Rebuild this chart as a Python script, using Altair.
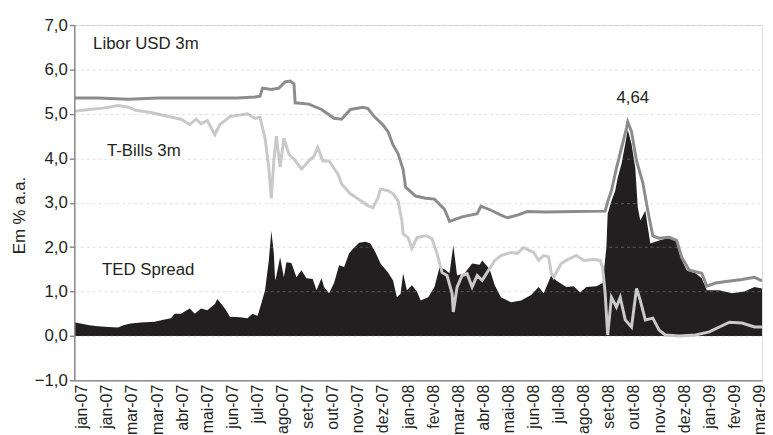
import altair as alt
import pandas as pd

# x = business-day index (labels every 20 days)
tick_labels = ["jan-07", "jan-07", "mar-07", "mar-07", "abr-07", "mai-07", "jun-07",
               "jul-07", "ago-07", "set-07", "out-07", "nov-07", "dez-07", "jan-08",
               "fev-08", "mar-08", "abr-08", "mai-08", "jun-08", "jul-08", "ago-08",
               "set-08", "out-08", "nov-08", "dez-08", "jan-09", "fev-09", "mar-09"]

libor_days = [-6, 13, 37, 61, 92, 124, 138, 142, 144, 151, 157, 162, 166, 169, 170, 181,
              191, 201, 207, 214, 224, 228, 233, 240, 244, 248, 252, 256, 258, 266, 274,
              281, 289, 293, 303, 315, 318, 326, 334, 339, 347, 355, 370, 392, 417, 419,
              422, 426, 430, 434, 435, 438, 442, 447, 451, 455, 460, 468, 474, 478, 484,
              494, 498, 505, 512, 526, 536, 542]
libor_vals = [5.36, 5.36, 5.33, 5.36, 5.36, 5.36, 5.38, 5.40, 5.58, 5.55, 5.58, 5.72, 5.74,
              5.68, 5.25, 5.22, 5.10, 4.90, 4.88, 5.10, 5.15, 5.12, 4.94, 4.75, 4.60, 4.30,
              4.10, 3.75, 3.35, 3.15, 3.10, 3.08, 2.85, 2.58, 2.68, 2.75, 2.92, 2.83, 2.72,
              2.66, 2.72, 2.80, 2.79, 2.80, 2.81, 3.02, 3.27, 3.78, 4.23, 4.68, 4.82, 4.60,
              3.94, 3.45, 2.82, 2.25, 2.20, 2.22, 2.15, 1.77, 1.48, 1.41, 1.12, 1.19, 1.22,
              1.27, 1.32, 1.24]

tbill_days = [-6, 6, 17, 29, 37, 43, 55, 69, 79, 86, 91, 95, 100, 106, 110, 118, 132, 138,
              142, 146, 149, 151, 153, 155, 158, 161, 165, 169, 175, 181, 185, 188, 192, 197,
              204, 207, 214, 220, 228, 232, 236, 238, 244, 248, 252, 255, 256, 260, 263, 267,
              274, 279, 283, 287, 291, 295, 296, 299, 303, 307, 311, 315, 319, 323, 329, 334,
              342, 347, 352, 360, 364, 368, 372, 374, 376, 382, 386, 394, 400, 408, 413, 415,
              417, 419, 422, 426, 429, 433, 438, 442, 445, 449, 455, 460, 465, 476, 489, 500,
              508, 516, 526, 536, 542]
tbill_vals = [5.06, 5.10, 5.13, 5.19, 5.15, 5.08, 5.03, 4.94, 4.88, 4.76, 4.88, 4.78, 4.85,
              4.53, 4.76, 4.94, 5.00, 4.90, 4.92, 4.45, 3.78, 3.10, 3.94, 4.50, 3.80, 4.45,
              4.09, 3.98, 3.76, 3.94, 4.05, 4.25, 3.94, 3.94, 3.65, 3.42, 3.20, 3.09, 2.93,
              2.89, 3.11, 3.31, 3.27, 3.20, 3.04, 2.60, 2.30, 2.21, 1.97, 2.21, 2.26, 2.19,
              1.86, 1.43, 1.36, 0.96, 0.54, 1.10, 1.36, 1.40, 1.10, 1.36, 1.25, 1.43, 1.70,
              1.81, 1.88, 1.86, 1.99, 1.88, 1.70, 1.81, 1.78, 1.41, 1.32, 1.63, 1.70, 1.81,
              1.70, 1.72, 1.70, 1.54, 0.96, 0.02, 0.87, 0.65, 0.87, 0.36, 0.20, 1.07, 0.80,
              0.36, 0.40, 0.13, 0.02, 0.00, 0.02, 0.09, 0.20, 0.31, 0.29, 0.20, 0.20]

ted_days = [-6, 6, 13, 21, 29, 33, 39, 47, 58, 66, 71, 74, 79, 86, 90, 95, 100, 106, 108,
            114, 118, 126, 132, 136, 140, 143, 146, 149, 151, 153, 154, 155, 158, 161, 163,
            167, 171, 175, 179, 184, 187, 191, 193, 197, 201, 205, 209, 213, 217, 221, 226,
            230, 234, 238, 244, 248, 251, 254, 256, 259, 263, 267, 270, 276, 281, 285, 289,
            293, 296, 299, 305, 311, 317, 319, 325, 329, 334, 342, 350, 358, 364, 368, 374,
            378, 386, 392, 397, 402, 410, 415, 418, 419, 422, 425, 427, 430, 433, 435, 438,
            441, 443, 445, 449, 451, 453, 460, 468, 474, 477, 482, 489, 494, 498, 508, 518,
            528, 536, 542]
ted_vals = [0.31, 0.24, 0.22, 0.20, 0.19, 0.24, 0.28, 0.30, 0.32, 0.37, 0.40, 0.50, 0.50,
            0.62, 0.50, 0.62, 0.58, 0.72, 0.83, 0.62, 0.43, 0.42, 0.40, 0.50, 0.45, 0.73,
            1.03, 1.70, 2.37, 1.86, 1.25, 1.35, 1.77, 1.32, 1.66, 1.64, 1.32, 1.48, 1.30,
            1.28, 1.03, 1.30, 1.10, 0.96, 1.19, 1.59, 1.55, 1.86, 1.99, 2.10, 2.12, 2.08,
            1.88, 1.63, 1.43, 1.25, 0.87, 0.95, 1.41, 1.03, 1.14, 1.00, 0.80, 0.87, 1.10,
            1.54, 1.50, 1.41, 2.04, 1.36, 1.41, 1.63, 1.60, 1.70, 1.50, 1.14, 0.87, 0.76,
            0.80, 0.92, 1.10, 0.96, 1.36, 1.25, 1.10, 1.12, 0.98, 1.10, 1.12, 1.19, 2.00,
            2.75, 3.04, 3.27, 3.56, 3.87, 4.32, 4.64, 4.32, 3.78, 2.89, 2.60, 2.82, 2.44,
            2.08, 2.15, 2.21, 2.15, 1.77, 1.48, 1.41, 1.30, 1.03, 1.03, 0.96, 1.00, 1.10,
            1.07]

series_names = ["Libor USD 3m", "T-Bills 3m", "TED Spread"]
label_days = [9, 20, 16]
label_vals = [6.58, 4.16, 1.48]
peak_text = ["4,64"]
peak_day = [439]
peak_val = [5.35]

libor = pd.DataFrame({"day": libor_days, "v": libor_vals})
tbill = pd.DataFrame({"day": tbill_days, "v": tbill_vals})
ted = pd.DataFrame({"day": ted_days, "v": ted_vals})
labels_df = pd.DataFrame({"day": label_days, "v": label_vals, "t": series_names})
peak_df = pd.DataFrame({"day": peak_day, "v": peak_val, "t": peak_text})

label_list = "[" + ",".join("'" + s + "'" for s in tick_labels) + "]"

FONT = "Liberation Sans"
xscale = alt.Scale(domain=[-6, 542], nice=False, zero=False)
yscale = alt.Scale(domain=[-1, 7], nice=False, zero=False)

x_axis = alt.Axis(
    values=list(range(0, 20 * len(tick_labels), 20)),
    labelExpr=label_list + "[round(datum.value/20)]",
    labelAngle=-90, labelFontSize=16, labelFont=FONT, labelColor="#231f20",
    ticks=False, grid=False, domainColor="#8a8a8a", domainWidth=1.5,
    labelPadding=4, title=None, labelOverlap=False, labelBound=False, labelFlush=False)
y_axis = alt.Axis(
    values=list(range(-1, 8)),
    labelExpr="replace(format(datum.value, '.1f'), '.', ',')",
    labelFontSize=17, labelFont=FONT, labelColor="#231f20",
    tickColor="#8a8a8a", tickSize=5, tickWidth=1.5, domainColor="#8a8a8a", domainWidth=1.5,
    grid=True, gridColor="#ababab", gridOpacity=0.4, gridDash=[3, 3], gridWidth=1,
    labelOverlap=False,
    title="Em % a.a.", titleFont=FONT, titleFontSize=17, titleFontWeight="normal",
    titleColor="#231f20", titleX=-55, titleY=192, titleAngle=270,
    titleAlign="center", titleBaseline="middle", zindex=1)

x_enc = alt.X("day:Q", scale=xscale, axis=x_axis)
y_enc = alt.Y("v:Q", scale=yscale, axis=y_axis)

area = alt.Chart(ted).mark_area(color="#231f20", clip=True).encode(x=x_enc, y=y_enc)
tb = alt.Chart(tbill).mark_line(color="#c9c9c9", strokeWidth=3, clip=True).encode(x=x_enc, y=y_enc)
lb = alt.Chart(libor).mark_line(color="#8c8c8c", strokeWidth=3, clip=True).encode(x=x_enc, y=y_enc)
txt = alt.Chart(labels_df).mark_text(align="left", baseline="middle", font=FONT,
                                     fontSize=17, color="#231f20").encode(
    x=x_enc, y=y_enc, text="t:N")
pk = alt.Chart(peak_df).mark_text(align="center", baseline="middle", font=FONT,
                                  fontSize=17, color="#231f20").encode(
    x=x_enc, y=y_enc, text="t:N")

chart = alt.layer(area, tb, lb, txt, pk).properties(
    width=695, height=359,
    autosize=alt.AutoSizeParams(type="none"),
    padding={"left": 67, "top": 15, "right": 3, "bottom": 52},
).configure_view(stroke=None).configure(background="white").configure_axisX(
    labelOverlap=False)

chart.save("out.html", embed_options={"renderer": "svg", "actions": False})
